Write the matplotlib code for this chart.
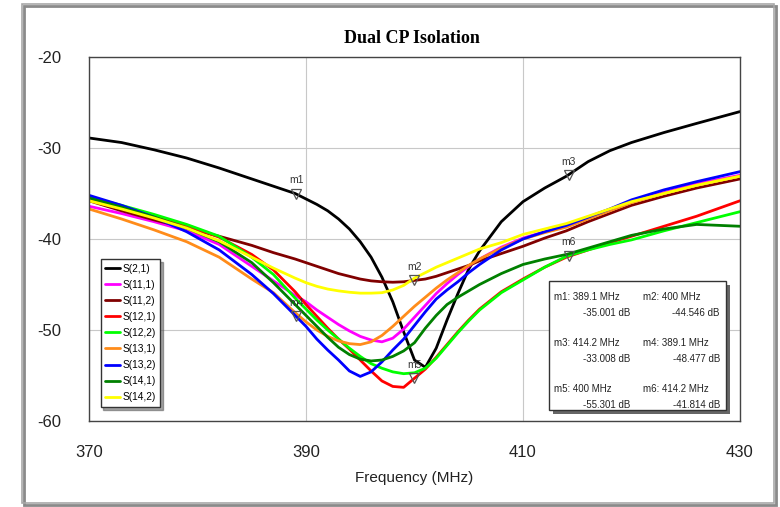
import matplotlib
matplotlib.use("Agg")
import matplotlib.pyplot as plt
from matplotlib.patches import Rectangle

plt.rcParams["axes.unicode_minus"] = False

# frequency grid (MHz)
freq = [370, 373, 376, 379, 382, 385, 387, 389, 390, 391, 392, 393, 394, 395, 396,
        397, 398, 399, 400, 401, 402, 403, 404, 405, 406, 408, 410, 412, 414, 416,
        418, 420, 423, 426, 430]

# isolation curves (dB)
s21 = [-28.9, -29.4, -30.2, -31.1, -32.2, -33.4, -34.2, -35.0, -35.6, -36.2, -36.9,
       -37.8, -38.9, -40.3, -42.0, -44.2, -46.9, -50.2, -53.3, -54.1, -52.0, -48.9,
       -46.0, -43.3, -41.3, -38.1, -35.9, -34.4, -33.1, -31.5, -30.3, -29.4, -28.3,
       -27.3, -26.0]
s11_1 = [-36.4, -37.2, -38.1, -39.1, -40.6, -43.0, -44.6, -46.2, -46.9, -47.8, -48.6,
         -49.4, -50.1, -50.7, -51.1, -51.3, -50.9, -49.9, -48.6, -47.3, -46.0, -44.9,
         -43.9, -43.0, -42.2, -40.9, -39.9, -39.2, -38.6, -37.7, -36.8, -35.8, -34.9,
         -33.9, -33.0]
s11_2 = [-35.8, -36.9, -37.9, -38.8, -39.7, -40.7, -41.5, -42.2, -42.6, -43.0, -43.4,
         -43.8, -44.1, -44.4, -44.6, -44.7, -44.75, -44.7, -44.55, -44.4, -44.1, -43.7,
         -43.3, -42.9, -42.4, -41.6, -40.8, -39.9, -39.1, -38.1, -37.2, -36.3, -35.3,
         -34.4, -33.4]
s12_1 = [-35.6, -36.5, -37.5, -38.5, -39.8, -41.7, -43.4, -45.8, -47.2, -48.5, -49.8,
         -51.0, -52.1, -53.3, -54.5, -55.6, -56.2, -56.3, -55.3, -54.3, -53.0, -51.6,
         -50.2, -48.9, -47.7, -45.8, -44.4, -43.1, -42.0, -41.2, -40.4, -39.7, -38.6,
         -37.5, -35.8]
s12_2 = [-35.4, -36.3, -37.3, -38.4, -39.7, -42.0, -43.9, -46.5, -47.7, -48.9, -50.0,
         -51.0, -52.0, -52.9, -53.7, -54.2, -54.6, -54.8, -54.7, -54.2, -53.1, -51.7,
         -50.3, -49.0, -47.8, -45.9, -44.5, -43.1, -41.9, -41.2, -40.6, -40.1, -39.1,
         -38.2, -37.0]
s13_1 = [-36.7, -37.8, -39.0, -40.3, -42.0, -44.4, -45.9, -48.1, -49.1, -50.0, -50.7,
         -51.2, -51.5, -51.6, -51.3, -50.6, -49.6, -48.5, -47.4, -46.4, -45.4, -44.5,
         -43.7, -42.9, -42.2, -41.0, -40.0, -39.3, -38.7, -37.8, -36.9, -36.0, -35.0,
         -34.1, -33.1]
s13_2 = [-35.2, -36.3, -37.6, -39.2, -41.2, -43.9, -46.0, -48.4, -49.6, -51.0, -52.2,
         -53.3, -54.5, -55.1, -54.6, -53.5, -52.2, -51.0, -49.5, -48.0, -46.6, -45.6,
         -44.7, -43.7, -42.8, -41.2, -40.0, -39.2, -38.5, -37.6, -36.7, -35.7, -34.6,
         -33.7, -32.6]
s14_1 = [-35.5, -36.5, -37.6, -38.8, -40.3, -42.6, -44.8, -47.2, -48.4, -49.6, -50.8,
         -51.9, -52.7, -53.2, -53.4, -53.3, -52.9, -52.3, -51.4, -49.8, -48.4, -47.2,
         -46.4, -45.7, -45.0, -43.8, -42.8, -42.2, -41.7, -41.0, -40.3, -39.6, -38.9,
         -38.4, -38.6]
s14_2 = [-35.8, -36.7, -37.7, -38.8, -40.2, -42.0, -43.2, -44.3, -44.8, -45.2, -45.5,
         -45.7, -45.85, -45.95, -45.95, -45.9, -45.6, -45.1, -44.3, -43.7, -43.1, -42.6,
         -42.1, -41.6, -41.1, -40.4, -39.5, -38.9, -38.3, -37.5, -36.7, -35.9, -35.0,
         -34.1, -33.1]

curves = [
    ("S(2,1)", s21, "black"),
    ("S(11,1)", s11_1, "#ff00ff"),
    ("S(11,2)", s11_2, "#800000"),
    ("S(12,1)", s12_1, "#ff0000"),
    ("S(12,2)", s12_2, "#00ff00"),
    ("S(13,1)", s13_1, "#ff8c1a"),
    ("S(13,2)", s13_2, "#0000ff"),
    ("S(14,1)", s14_1, "#008000"),
    ("S(14,2)", s14_2, "#ffff00"),
]

# markers
mk_names = ["m1", "m2", "m3", "m4", "m5", "m6"]
mk_freq = [389.1, 400, 414.2, 389.1, 400, 414.2]
mk_db = [-35.001, -44.546, -33.008, -48.477, -55.301, -41.814]

fig = plt.figure(figsize=(7.8, 5.07), dpi=100)
ax = fig.add_axes([0.1141, 0.1696, 0.8346, 0.718])

# outer frame
fig.patches.append(Rectangle((0.031, 0.004), 0.964, 0.984, transform=fig.transFigure,
                             fill=False, edgecolor="#8a8a8a", linewidth=2.0))
fig.patches.append(Rectangle((0.028, 0.008), 0.964, 0.984, transform=fig.transFigure,
                             fill=False, edgecolor="#a8a8a8", linewidth=1.2))

for name, vals, col in curves:
    ax.plot(freq, vals, color=col, linewidth=2.0, label=name,
            solid_capstyle="round", solid_joinstyle="round")

for n, f, d in zip(mk_names, mk_freq, mk_db):
    ax.plot(f, d, marker="v", markersize=7, markerfacecolor="none",
            markeredgecolor="#555555", markeredgewidth=0.9, zorder=5)
    ax.annotate(n, (f, d), xytext=(0, 6), textcoords="offset points",
                ha="center", va="bottom", fontsize=7.5, color="#333333",
                family="Liberation Sans")

ax.set_xlim(370, 430)
ax.set_ylim(-60, -20)
ax.set_xticks([370, 390, 410, 430])
ax.set_yticks([-60, -50, -40, -30, -20])
ax.tick_params(length=0, labelsize=12, colors="#222222")
ax.tick_params(axis="x", pad=17)
ax.tick_params(axis="y", pad=20)
for lbl in ax.get_xticklabels() + ax.get_yticklabels():
    lbl.set_family("Liberation Sans")
ax.grid(True, color="#c8c8c8", linewidth=0.8)
ax.set_axisbelow(True)
for sp in ax.spines.values():
    sp.set_color("#444444")
    sp.set_linewidth(1.0)

ax.set_xlabel("Frequency (MHz)", fontsize=11, family="Liberation Sans",
              color="#222222", labelpad=8)
fig.text(0.528, 0.925, "Dual CP Isolation", ha="center", va="center",
         fontsize=13, fontweight="bold", family="Liberation Serif")

leg = ax.legend(loc="lower left", bbox_to_anchor=(0.01, 0.025),
                frameon=True, fancybox=False, shadow=True, handlelength=1.5,
                handletextpad=0.2, labelspacing=0.6, borderpad=0.45,
                prop={"family": "Liberation Sans", "size": 7.3})
leg.get_frame().set_edgecolor("#333333")
leg.get_frame().set_linewidth(1.0)

# marker readout table
tb_x0, tb_y0, tb_w, tb_h = 0.706, 0.03, 0.273, 0.355
ax.add_patch(Rectangle((tb_x0 + 0.006, tb_y0 - 0.011), tb_w, tb_h, transform=ax.transAxes,
                       facecolor="#666666", edgecolor="none", zorder=6))
ax.add_patch(Rectangle((tb_x0, tb_y0), tb_w, tb_h, transform=ax.transAxes,
                       facecolor="white", edgecolor="#333333", linewidth=1.0, zorder=7))
for i, (n, f, d) in enumerate(zip(mk_names, mk_freq, mk_db)):
    col = i % 2
    row = i // 2
    xl = tb_x0 + 0.008 + col * 0.137
    yl = tb_y0 + tb_h - 0.045 - row * 0.126
    ax.text(xl, yl, f"{n}: {f:g} MHz", transform=ax.transAxes, fontsize=7,
            family="Liberation Sans", color="#222222", va="center", zorder=8)
    ax.text(xl + 0.118, yl - 0.044, f"{d:.3f} dB", transform=ax.transAxes, fontsize=7,
            family="Liberation Sans", color="#222222", va="center", ha="right", zorder=8)

fig.savefig("out.png", dpi=100)
